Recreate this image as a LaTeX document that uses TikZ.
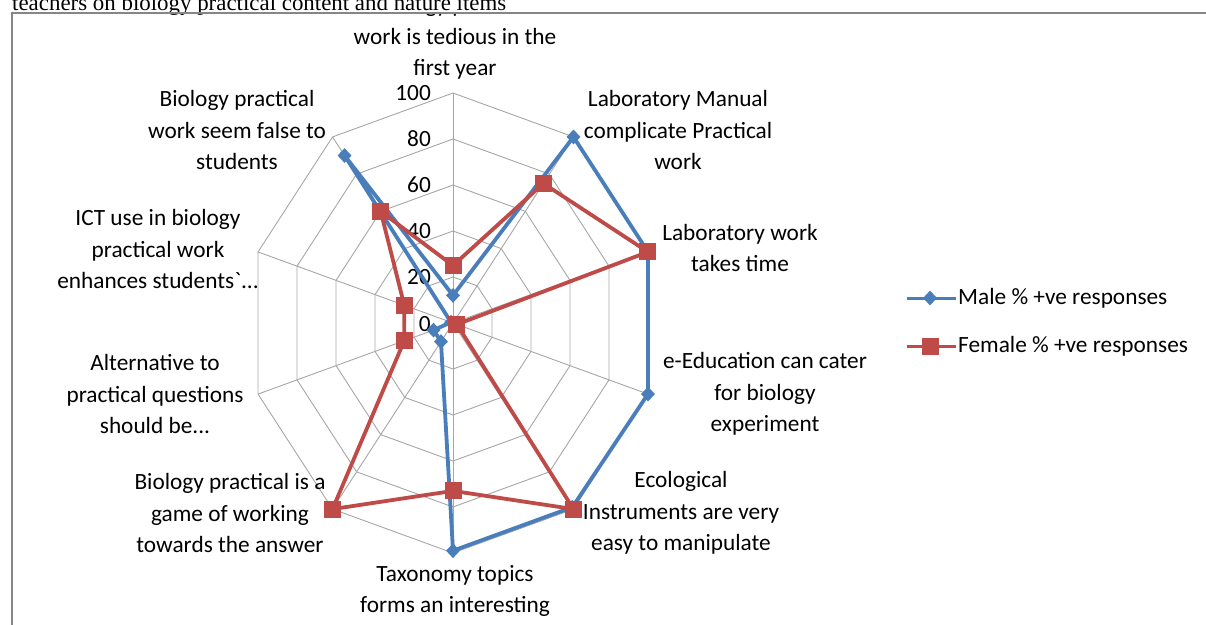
\documentclass[tikz,border=0pt]{standalone}
\usepackage{fontspec}
\setmainfont{Carlito}
\newfontfamily\titlefont{Liberation Serif}
\usetikzlibrary{shapes.geometric,calc}
\definecolor{malecol}{HTML}{4A7EBB}
\definecolor{femalecol}{HTML}{BE4B48}
\definecolor{gridcol}{HTML}{A6A6A6}
\definecolor{framecol}{HTML}{868686}
\tikzset{
  gridline/.style={draw=gridcol, line width=0.9pt},
  maleline/.style={draw=malecol, line width=3.8pt, line join=round},
  femaleline/.style={draw=femalecol, line width=3.8pt, line join=round},
  malemark/.style={shape=diamond, fill=malecol, inner sep=0pt,
    minimum width=14pt, minimum height=15pt},
  femalemark/.style={shape=rectangle, fill=femalecol, inner sep=0pt,
    minimum size=17pt},
  catlabel/.style={align=center, inner sep=0pt,
    font=\fontsize{23.3}{31.5}\selectfont},
  ticklabel/.style={anchor=east, inner sep=0pt,
    font=\fontsize{23.3}{28}\selectfont}
}

\begin{document}
\begin{tikzpicture}[x=1pt, y=-1pt]
  \useasboundingbox (0,0) rectangle (1206,624);
  \node[name=title, anchor=base west, inner sep=0pt,
    font=\titlefont\fontsize{22.9}{27}\selectfont] at (12,10.5)
    {teachers on biology practical content and nature items};
  \draw[framecol, line width=2.5pt] (1210,13) -- (12,13) -- (12,630);
  \begin{scope}
    \clip (13,14.3) rectangle (1210,630);
    \coordinate (ctr) at (453,323);
    \foreach \k in {0,...,9}
      \coordinate (s\k) at ({453+205*sin(36*\k)},{323-230*cos(36*\k)});
    \foreach \r in {20,40,60,80,100}
      \draw[gridline] ($(ctr)!\r/100!(s0)$)
        \foreach \k in {1,...,9} { -- ($(ctr)!\r/100!(s\k)$) } -- cycle;
    \foreach \k in {0,...,9}
      \draw[gridline] (ctr) -- (s\k);
    \foreach \v [count=\i from 0] in {20,40,60,80,100}
      \node[ticklabel, name=tick\i] at (431,{323-2.3*\v}) {\v};
    \node[ticklabel, name=tickz] at (431,324) {0};
    \foreach \v [count=\i from 0] in {12,100,100,100,99,99,10,10,1,90}
      \coordinate (m\i) at ($(ctr)!\v/100!(s\i)$);
    \foreach \v [count=\i from 0] in {25,75,100,2,100,73,100,25,25,60}
      \coordinate (f\i) at ($(ctr)!\v/100!(s\i)$);
    \draw[maleline] (m0) \foreach \i in {1,...,9} { -- (m\i) } -- cycle;
    \foreach \i in {0,...,9}
      \node[malemark, name=mm\i] at (m\i) {};
    \draw[femaleline] (f0) \foreach \i in {1,...,9} { -- (f\i) } -- cycle;
    \foreach \i in {0,...,9}
      \node[femalemark, name=fm\i] at (f\i) {};
    \foreach \n/\x/\y/\t in {
      cat0/455/38/{Biology practical\\work is tedious in the\\first year},
      cat1/678/130/{Laboratory Manual\\complicate Practical\\work},
      cat2/740/248/{Laboratory work\\takes time},
      cat3/765/394/{e-Education can cater\\for biology\\experiment},
      cat4/681/513/{Ecological\\Instruments are very\\easy to manipulate},
      cat5/455/591/{Taxonomy topics\\forms an interesting},
      cat6/230/513/{Biology practical is a\\game of working\\towards the answer},
      cat7/155/394/{Alternative to\\practical questions\\should be...},
      cat8/158/249/{ICT use in biology\\practical work\\enhances students\textasciigrave...},
      cat9/237/130/{Biology practical\\work seem false to\\students}}
      \node[catlabel, name=\n] at (\x,\y) {\t};
  \end{scope}
  \coordinate (lma) at (907,298);
  \coordinate (lmb) at (956,298);
  \coordinate (lfa) at (907,346);
  \coordinate (lfb) at (956,346);
  \draw[maleline, line width=3pt] (lma) -- (lmb);
  \node[malemark, name=legmm] at ($(lma)!0.47!(lmb)$) {};
  \draw[femaleline, line width=3pt] (lfa) -- (lfb);
  \node[femalemark, name=legfm] at ($(lfa)!0.47!(lfb)$) {};
  \node[ticklabel, anchor=west, name=legm] at (958,298) {Male \% +ve responses};
  \node[ticklabel, anchor=west, name=legf] at (958,346) {Female \% +ve responses};
\end{tikzpicture}
\end{document}
